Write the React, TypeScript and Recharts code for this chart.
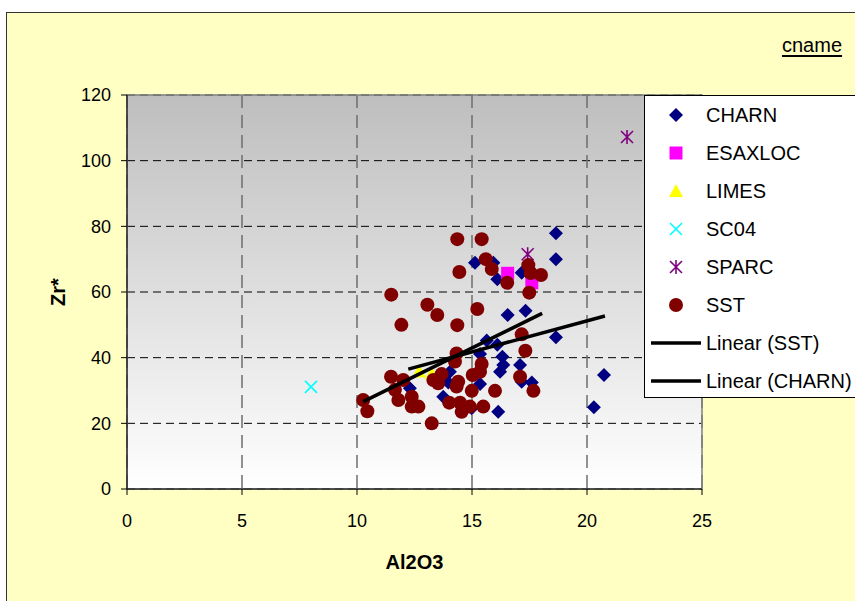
import React from "react";
import {
  ScatterChart,
  Scatter,
  XAxis,
  YAxis,
  CartesianGrid,
  Legend,
  ReferenceArea,
} from "recharts";

const FONT = '"Liberation Sans", Arial, sans-serif';

// values
const charnAl2O3 = [18.65, 18.65, 15.13, 15.93, 16.1, 17.16, 16.55, 17.33, 18.65, 15.64, 16.1, 15.35, 16.32, 16.36, 16.22, 17.09, 17.16, 17.6, 15.35, 14.04, 13.97, 13.75, 12.3, 16.14, 14.99, 20.74, 20.3];
const charnZr = [77.9, 70.0, 68.9, 68.9, 63.9, 65.9, 53.0, 54.3, 46.2, 45.2, 43.9, 41.1, 40.3, 37.8, 35.7, 37.8, 32.7, 32.4, 32.0, 35.7, 32.4, 28.1, 30.7, 23.5, 24.6, 34.7, 24.9];

const esaxlocAl2O3 = [16.55, 17.6];
const esaxlocZr = [65.7, 62.8];

const limesAl2O3 = [12.7, 13.25];
const limesZr = [35.8, 35.2];

const sc04Al2O3 = [8.0];
const sc04Zr = [31.1];

const sparcAl2O3 = [21.74, 17.42];
const sparcZr = [107.2, 71.5];

const sstAl2O3 = [14.36, 15.42, 15.6, 15.86, 14.45, 16.53, 17.45, 17.55, 18.0, 17.49, 11.49, 13.06, 13.49, 15.23, 11.93, 14.36, 17.16, 17.32, 14.33, 14.26, 15.42, 15.35, 15.03, 11.48, 12.01, 13.68, 13.32, 13.53, 14.4, 14.33, 17.09, 17.67, 16.0, 14.99, 11.65, 11.8, 12.38, 12.38, 12.67, 10.27, 10.45, 14.01, 14.48, 14.55, 14.91, 15.49, 13.25];
const sstZr = [76.1, 76.1, 70.0, 67.0, 66.1, 62.8, 68.2, 65.8, 65.2, 59.8, 59.2, 56.1, 53.0, 54.8, 50.0, 49.9, 47.1, 42.1, 41.3, 38.8, 38.1, 35.7, 34.7, 34.2, 33.2, 35.0, 33.2, 32.2, 32.7, 31.2, 34.2, 29.9, 29.9, 29.9, 30.2, 27.1, 28.1, 25.1, 25.1, 27.1, 23.7, 26.3, 26.3, 23.5, 25.1, 25.1, 20.0];

// trendline end points as drawn in the picture
const sstTrendAl2O3 = [10.27, 18.05];
const sstTrendZr = [26.6, 53.5];
const charnTrendAl2O3 = [12.23, 20.78];
const charnTrendZr = [36.5, 52.7];

const xTicks = [0, 5, 10, 15, 20, 25];
const yTicks = [0, 20, 40, 60, 80, 100, 120];

const zip = (xs: number[], ys: number[]) => xs.map((x, i) => ({ x, y: ys[i] }));

const Diamond = ({ cx, cy, color }: any) => (
  <path d={`M${cx},${cy - 7}L${cx + 7},${cy}L${cx},${cy + 7}L${cx - 7},${cy}Z`} fill={color} />
);
const Square = ({ cx, cy, color }: any) => (
  <rect x={cx - 6.5} y={cy - 6.5} width={13} height={13} fill={color} />
);
const Triangle = ({ cx, cy, color }: any) => (
  <path d={`M${cx},${cy - 7}L${cx + 7},${cy + 6}L${cx - 7},${cy + 6}Z`} fill={color} />
);
const Cross = ({ cx, cy, color }: any) => (
  <path d={`M${cx - 6},${cy - 6}L${cx + 6},${cy + 6}M${cx + 6},${cy - 6}L${cx - 6},${cy + 6}`} stroke={color} strokeWidth={1.6} fill="none" />
);
const Star = ({ cx, cy, color }: any) => (
  <path d={`M${cx - 6},${cy - 6}L${cx + 6},${cy + 6}M${cx + 6},${cy - 6}L${cx - 6},${cy + 6}M${cx},${cy - 7}L${cx},${cy + 7}`} stroke={color} strokeWidth={1.6} fill="none" />
);
const Dot = ({ cx, cy, color }: any) => <circle cx={cx} cy={cy} r={7} fill={color} />;

const legendItems = [
  { name: "CHARN", Mark: Diamond, color: "#000080" },
  { name: "ESAXLOC", Mark: Square, color: "#FF00FF" },
  { name: "LIMES", Mark: Triangle, color: "#FFFF00" },
  { name: "SC04", Mark: Cross, color: "#00FFFF" },
  { name: "SPARC", Mark: Star, color: "#800080" },
  { name: "SST", Mark: Dot, color: "#800000" },
  { name: "Linear (SST)", Mark: null, color: "#000000" },
  { name: "Linear (CHARN)", Mark: null, color: "#000000" },
];

const LegendBox = () => (
  <div style={{ fontFamily: FONT, fontSize: 20, color: "#000" }}>
    {legendItems.map(({ name, Mark, color }) => (
      <div key={name} style={{ height: 38, display: "flex", alignItems: "center", whiteSpace: "nowrap" }}>
        <svg width={50} height={20} style={{ marginLeft: 6, flex: "none" }}>
          {Mark ? <Mark cx={25} cy={10} color={color} /> : <line x1={0} x2={50} y1={10} y2={10} stroke={color} strokeWidth={3.5} />}
        </svg>
        <span style={{ marginLeft: 5 }}>{name}</span>
      </div>
    ))}
  </div>
);

const tickStyle = { fill: "#000", fontSize: 18, fontFamily: FONT };

export default function App() {
  return (
    <div style={{ position: "absolute", left: 0, top: 0, width: 855, height: 601, overflow: "hidden", background: "#fff" }}>
      <div style={{ position: "absolute", left: 6, top: 12, width: 900, height: 700, background: "#FFFFC4", borderTop: "1.5px solid #333", borderLeft: "1.5px solid #333" }} />
      <span style={{ position: "absolute", left: 782, top: 34, fontFamily: FONT, fontSize: 20, textDecoration: "underline", textUnderlineOffset: 3 }}>cname</span>
      <div style={{ position: "absolute", left: 0, top: 0 }}>
        <ScatterChart width={855} height={601} margin={{ top: 95, right: 153, bottom: 30, left: 52 }}>
          <defs>
            <linearGradient id="plotBg" x1="0" y1="0" x2="0" y2="1">
              <stop offset="0%" stopColor="#BEBEBE" />
              <stop offset="100%" stopColor="#FFFFFF" />
            </linearGradient>
          </defs>
          <CartesianGrid vertical={false} fill="url(#plotBg)" stroke="#000" strokeDasharray="8 5" />
          <CartesianGrid horizontal={false} stroke="#6E6E6E" strokeWidth={1.5} strokeDasharray="13 7" />
          <ReferenceArea x1={0} x2={25} y1={0} y2={120} fill="none" stroke="#808080" strokeWidth={1.5} />
          <XAxis
            type="number"
            dataKey="x"
            domain={[0, 25]}
            ticks={xTicks}
            height={82}
            tick={tickStyle}
            tickMargin={19}
            stroke="#000"
            tickLine={{ stroke: "#000" }}
            label={{ value: "Al2O3", position: "insideBottom", offset: 2, style: { fontFamily: FONT, fontSize: 20, fontWeight: "bold", fill: "#000" } }}
          />
          <YAxis
            type="number"
            dataKey="y"
            domain={[0, 120]}
            ticks={yTicks}
            width={75}
            tick={tickStyle}
            tickMargin={10}
            stroke="#000"
            tickLine={{ stroke: "#000" }}
            label={{ value: "Zr*", angle: -90, position: "insideLeft", offset: 6, style: { fontFamily: FONT, fontSize: 20, fontWeight: "bold", fill: "#000", textAnchor: "middle" } }}
          />
          <Legend layout="vertical" align="center" verticalAlign="middle" content={<LegendBox />}
            wrapperStyle={{ left: 644, top: 95, width: 240, height: 303, border: "1px solid #000", background: "#fff", boxSizing: "border-box" }} />
          <Scatter name="CHARN" data={zip(charnAl2O3, charnZr)} shape={(p: any) => <Diamond cx={p.cx} cy={p.cy} color="#000080" />} isAnimationActive={false} />
          <Scatter name="ESAXLOC" data={zip(esaxlocAl2O3, esaxlocZr)} shape={(p: any) => <Square cx={p.cx} cy={p.cy} color="#FF00FF" />} isAnimationActive={false} />
          <Scatter name="LIMES" data={zip(limesAl2O3, limesZr)} shape={(p: any) => <Triangle cx={p.cx} cy={p.cy} color="#FFFF00" />} isAnimationActive={false} />
          <Scatter name="SC04" data={zip(sc04Al2O3, sc04Zr)} shape={(p: any) => <Cross cx={p.cx} cy={p.cy} color="#00FFFF" />} isAnimationActive={false} />
          <Scatter name="SPARC" data={zip(sparcAl2O3, sparcZr)} shape={(p: any) => <Star cx={p.cx} cy={p.cy} color="#800080" />} isAnimationActive={false} />
          <Scatter name="SST" data={zip(sstAl2O3, sstZr)} shape={(p: any) => <Dot cx={p.cx} cy={p.cy} color="#800000" />} isAnimationActive={false} />
          <Scatter name="Linear (SST)" data={zip(sstTrendAl2O3, sstTrendZr)} line={{ stroke: "#000", strokeWidth: 3.5 }} shape={() => <g />} isAnimationActive={false} />
          <Scatter name="Linear (CHARN)" data={zip(charnTrendAl2O3, charnTrendZr)} line={{ stroke: "#000", strokeWidth: 3.5 }} shape={() => <g />} isAnimationActive={false} />
        </ScatterChart>
      </div>
    </div>
  );
}
